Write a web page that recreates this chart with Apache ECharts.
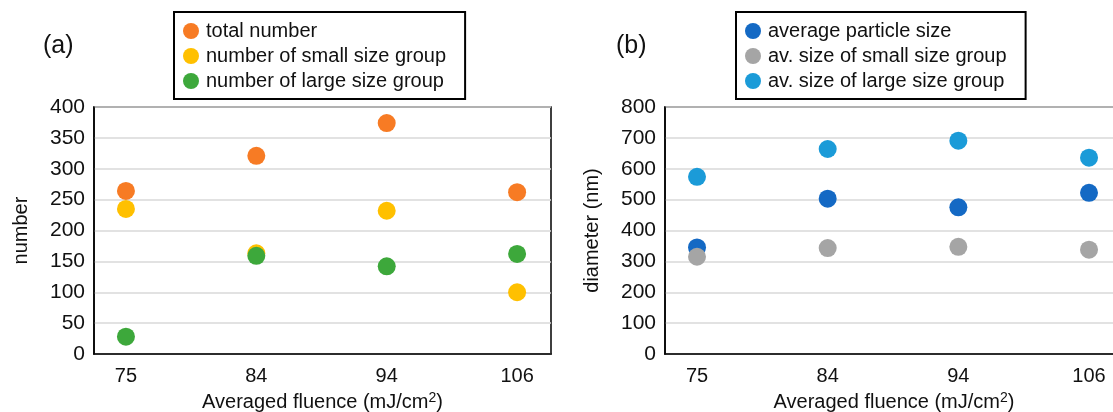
<!DOCTYPE html>
<html>
<head>
<meta charset="utf-8">
<script src="https://cdn.jsdelivr.net/npm/echarts@6/dist/echarts.min.js"></script>
<style>html,body{margin:0;padding:0;background:#fff;}#c{width:1113px;height:412px;}</style>
</head>
<body>
<div id="c"></div>
<script>
const categories = ['75', '84', '94', '106'];
const totalNumber = [264, 321, 374, 262];
const smallNumber = [235, 163, 232, 100];
const largeNumber = [28, 159, 142, 162];
const avgSize = [345, 503, 475, 522];
const smallSize = [315, 343, 347, 338];
const largeSize = [574, 664, 691, 636];
const leftTicks = [0, 50, 100, 150, 200, 250, 300, 350, 400];
const rightTicks = [0, 100, 200, 300, 400, 500, 600, 700, 800];

const FONT = 'Liberation Sans, Arial, sans-serif';
const toPts = arr => arr.map((v, i) => [i, v]);
const chart = echarts.init(document.getElementById('c'), null, {renderer: 'canvas'});

function xAxis(gi) {
  return {
    type: 'value', gridIndex: gi, min: -0.245, max: 3.26,
    axisLine: {show: true, onZero: false, lineStyle: {color: '#000', width: 1.5}},
    axisTick: {show: false},
    splitLine: {show: false},
    axisLabel: {
      customValues: [0, 1, 2, 3],
      formatter: v => categories[Math.round(v)],
      color: '#111', fontSize: 20, fontFamily: FONT, margin: 12
    },
    name: 'Averaged fluence (mJ/cm{sup|2})',
    nameLocation: 'middle', nameGap: 35,
    nameTextStyle: {color: '#111', fontSize: 20, fontFamily: FONT,
      rich: {sup: {fontSize: 14, verticalAlign: 'top', padding: [0, 0, 9, 0], color: '#111', fontFamily: FONT}}}
  };
}
function yAxis(gi, ticks, name, gap) {
  return {
    type: 'value', gridIndex: gi, min: ticks[0], max: ticks[ticks.length - 1],
    interval: ticks[1] - ticks[0],
    axisLine: {show: true, onZero: false, lineStyle: {color: '#000', width: 1.5}},
    axisTick: {show: false},
    splitLine: {show: true, lineStyle: {color: '#d9d9d9', width: 1.5}},
    axisLabel: {color: '#111', fontSize: 21, fontFamily: FONT, margin: 9},
    name: name, nameLocation: 'middle', nameGap: gap, nameRotate: 90,
    nameTextStyle: {color: '#111', fontSize: 20, fontFamily: FONT}
  };
}
function legend(left, names) {
  return {
    data: names.map(n => ({name: n, icon: 'circle'})),
    orient: 'vertical', left: left, top: 12,
    itemWidth: 16, itemHeight: 16, itemGap: 5,
    padding: [9, 19, 8, 9],
    borderColor: '#000', borderWidth: 2,
    textStyle: {color: '#111', fontSize: 20, fontFamily: FONT, padding: [0, 0, 0, 2]}
  };
}
function sc(name, data, color, xi) {
  return {
    type: 'scatter', name: name, xAxisIndex: xi, yAxisIndex: xi,
    data: toPts(data), symbolSize: 18, itemStyle: {color: color, opacity: 1}
  };
}

chart.setOption({
  animation: false,
  backgroundColor: '#fff',
  title: [
    {text: '(a)', left: 38, top: 29, textStyle: {fontSize: 25, fontWeight: 'normal', color: '#111', fontFamily: FONT}},
    {text: '(b)', left: 611, top: 29, textStyle: {fontSize: 25, fontWeight: 'normal', color: '#111', fontFamily: FONT}}
  ],
  legend: [
    legend(174, ['total number', 'number of small size group', 'number of large size group']),
    legend(736, ['average particle size', 'av. size of small size group', 'av. size of large size group'])
  ],
  grid: [
    {left: 94, width: 457, top: 107, height: 247, outerBoundsMode: 'none', show: true, borderColor: '#000', borderWidth: 1.5, containLabel: false},
    {left: 665, width: 458, top: 107, height: 247, outerBoundsMode: 'none', show: true, borderColor: '#000', borderWidth: 1.5, containLabel: false}
  ],
  xAxis: [xAxis(0), xAxis(1)],
  yAxis: [yAxis(0, leftTicks, 'number', 63), yAxis(1, rightTicks, 'diameter (nm)', 63)],
  series: [
    sc('total number', totalNumber, '#F77B24', 0),
    sc('number of small size group', smallNumber, '#FFC000', 0),
    sc('number of large size group', largeNumber, '#3DA83B', 0),
    sc('average particle size', avgSize, '#1469C4', 1),
    sc('av. size of small size group', smallSize, '#A5A5A5', 1),
    sc('av. size of large size group', largeSize, '#1B9BD8', 1)
  ]
});
</script>
</body>
</html>
